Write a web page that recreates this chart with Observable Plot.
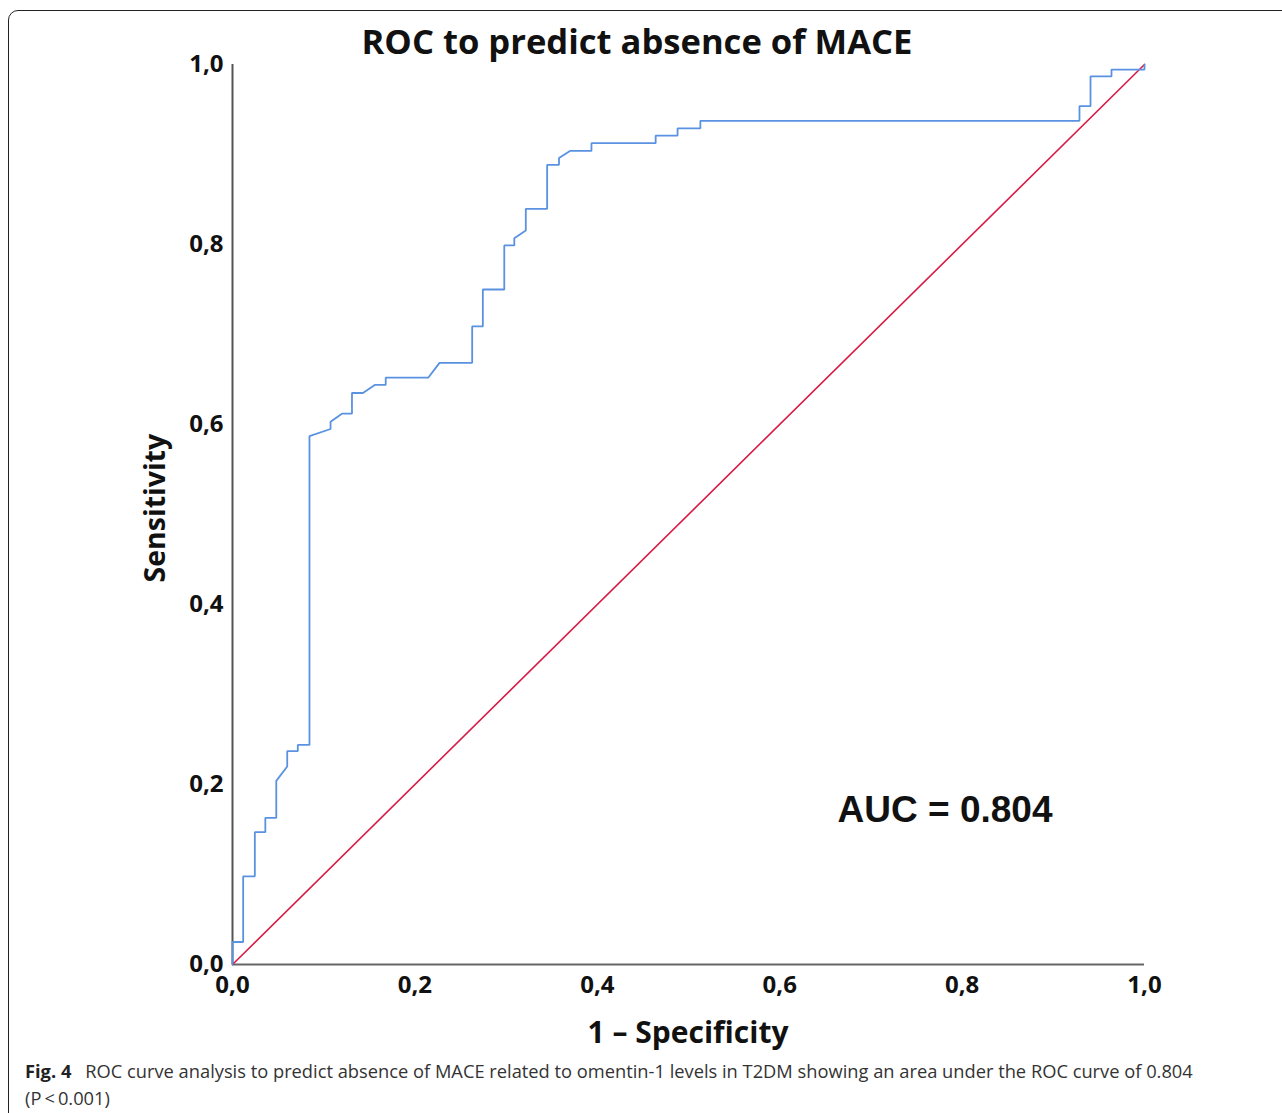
<!DOCTYPE html>
<html>
<head>
<meta charset="utf-8">
<script src="https://cdn.jsdelivr.net/npm/d3@7"></script>
<script src="https://cdn.jsdelivr.net/npm/@observablehq/plot@0.6"></script>
<style>
  html, body { margin: 0; padding: 0; background: #fff; }
  #page { position: relative; width: 1282px; height: 1113px; overflow: hidden; background: #fff; }
  #frame { position: absolute; left: 8px; top: 10px; width: 1300px; height: 1130px; border: 1.5px solid #222; border-radius: 10px; box-sizing: border-box; }
  #title { position: absolute; left: 0; width: 1274px; top: 17px; text-align: center; font-family: "Open Sans", sans-serif; font-weight: 700; font-size: 34.6px; color: #111; letter-spacing: 0px; }
  #chart { position: absolute; left: 0; top: 0; }
  #xlabel { position: absolute; left: 0; width: 1376px; top: 1011px; text-align: center; font-family: "Open Sans", sans-serif; font-weight: 700; font-size: 30px; color: #111; }
  #caption { position: absolute; left: 25px; top: 1057px; width: 1250px; font-family: "Open Sans", sans-serif; font-size: 18.3px; line-height: 27px; color: #333; letter-spacing: 0px; }
  #caption b { color: #222; }
</style>
</head>
<body>
<div id="page">
  <div id="frame"></div>
  <div id="chart"></div>
  <div id="title"></div>
  <div id="xlabel"></div>
  <div id="caption"></div>
</div>
<script>
// ---- data ----
const chartTitle = "ROC to predict absence of MACE";
const xLabel = "1 \u2013 Specificity";
const yLabel = "Sensitivity";
const aucLabel = "AUC = 0.804";
const captionBold = "Fig. 4";
const captionLines = [
  "ROC curve analysis to predict absence of MACE related to omentin-1 levels in T2DM showing an area under the ROC curve of 0.804",
  "(P\u2009<\u20090.001)"
];
const tickValues = [0, 0.2, 0.4, 0.6, 0.8, 1.0];

// ROC curve (1 - specificity, sensitivity)
const fpr = [0, 0, 0.0117, 0.0117, 0.0245, 0.0245, 0.036, 0.036, 0.048, 0.048, 0.060, 0.060, 0.0716, 0.0716, 0.0844, 0.0844,
  0.1075, 0.1075, 0.120, 0.131, 0.131, 0.143, 0.156, 0.168, 0.168, 0.2146, 0.227, 0.2628, 0.2628, 0.2745, 0.2745, 0.298, 0.298,
  0.309, 0.309, 0.3216, 0.3216, 0.345, 0.345, 0.358, 0.358, 0.370, 0.3936, 0.3936, 0.464, 0.464, 0.488, 0.488, 0.513, 0.513,
  0.9287, 0.9287, 0.9408, 0.9408, 0.9638, 0.9638, 1.0, 1.0];
const tpr = [0, 0.025, 0.025, 0.098, 0.098, 0.147, 0.147, 0.163, 0.163, 0.204, 0.220, 0.237, 0.237, 0.244, 0.244, 0.587,
  0.595, 0.603, 0.612, 0.612, 0.635, 0.635, 0.644, 0.644, 0.652, 0.652, 0.6685, 0.6685, 0.709, 0.709, 0.75, 0.75, 0.799,
  0.799, 0.807, 0.8156, 0.8396, 0.8396, 0.8885, 0.8885, 0.896, 0.904, 0.904, 0.9126, 0.9126, 0.921, 0.921, 0.929, 0.929, 0.9374,
  0.9374, 0.9537, 0.9537, 0.9867, 0.9867, 0.9944, 0.9944, 1.0];
// reference diagonal
const refX = [0, 1];
const refY = [0, 1];

// ---- build ----
const roc = fpr.map((x, i) => ({x, y: tpr[i]}));
const ref = refX.map((x, i) => ({x, y: refY[i]}));
const fmt = d => d.toFixed(1).replace(".", ",");

const W = 1282, H = 1060;
const plot = Plot.plot({
  width: W, height: H,
  marginLeft: 232, marginRight: 138, marginTop: 64, marginBottom: 96,
  style: {background: "transparent", overflow: "visible"},
  x: {domain: [0, 1]},
  y: {domain: [0, 1]},
  marks: [
    Plot.axisX({ticks: tickValues, tickFormat: fmt, tickSize: 0, tickPadding: 11, label: null,
      fontFamily: "Open Sans, sans-serif", fontWeight: 700, fontSize: 24, fill: "#111"}),
    Plot.axisY({ticks: tickValues, tickFormat: fmt, tickSize: 0, tickPadding: 9, label: null,
      fontFamily: "Open Sans, sans-serif", fontWeight: 700, fontSize: 24, fill: "#111"}),
    Plot.ruleY([0], {stroke: "#666", strokeWidth: 2}),
    Plot.ruleX([0], {stroke: "#555", strokeWidth: 2}),
    Plot.line(ref, {x: "x", y: "y", stroke: "#d81b45", strokeWidth: 1.6}),
    Plot.line(roc, {x: "x", y: "y", stroke: "#5a92e2", strokeWidth: 1.8, strokeLinejoin: "miter"}),
    Plot.text([aucLabel], {frameAnchor: "bottom-right", dx: -92, dy: -154, text: d => d, textAnchor: "end", lineAnchor: "middle",
      fontFamily: "Liberation Sans, Arial, sans-serif", fontWeight: 700, fontSize: 37, fill: "#111"}),
    Plot.text([yLabel], {frameAnchor: "left", dx: -77, dy: 68, text: d => d, rotate: -90, lineAnchor: "middle",
      fontFamily: "Open Sans, sans-serif", fontWeight: 700, fontSize: 28.5, fill: "#111"})
  ]
});
document.getElementById("chart").appendChild(plot);
document.getElementById("title").textContent = chartTitle;
document.getElementById("xlabel").textContent = xLabel;
const cap = document.getElementById("caption");
const b = document.createElement("b");
b.textContent = captionBold;
cap.appendChild(b);
cap.appendChild(document.createTextNode("\u2002 " + captionLines[0]));
cap.appendChild(document.createElement("br"));
cap.appendChild(document.createTextNode(captionLines[1]));
</script>
</body>
</html>
